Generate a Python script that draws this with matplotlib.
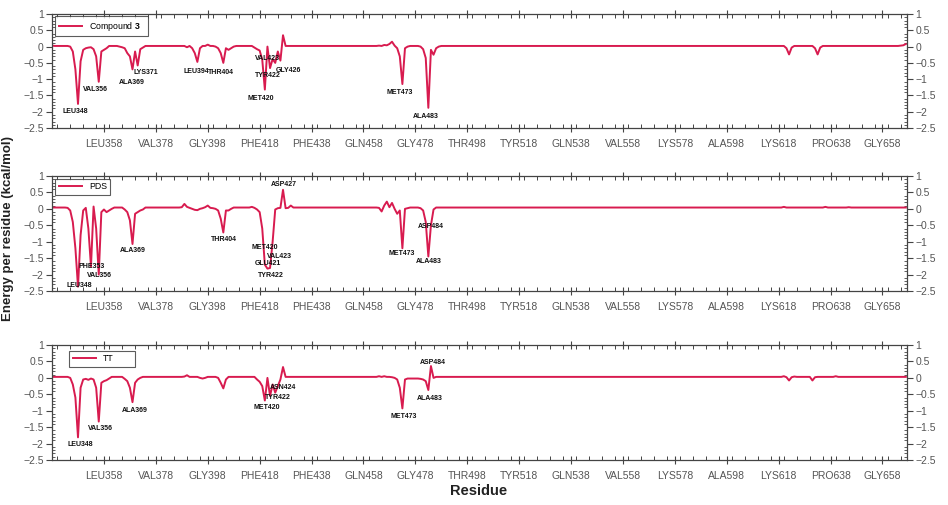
import numpy as np
import matplotlib
matplotlib.use("Agg")
import matplotlib.pyplot as plt
from matplotlib.ticker import MultipleLocator, FixedLocator

plt.rcParams['font.family'] = ['Liberation Sans', 'DejaVu Sans']
plt.rcParams['mathtext.fontset'] = 'custom'
plt.rcParams['mathtext.rm'] = 'Liberation Sans'
plt.rcParams['mathtext.bf'] = 'Liberation Sans:bold'

# residue range shown on the x axis
first_res, last_res = 338, 667

tick_res = [358, 378, 398, 418, 438, 458, 478, 498, 518, 538, 558, 578, 598, 618, 638, 658]
tick_names = ['LEU358', 'VAL378', 'GLY398', 'PHE418', 'PHE438', 'GLN458', 'GLY478', 'THR498',
              'TYR518', 'GLN538', 'VAL558', 'LYS578', 'ALA598', 'LYS618', 'PRO638', 'GLY658']

# --- Compound 3: residues that differ from the flat baseline, and their energies
c3_base = 0.02
c3_res = [338, 345, 346, 347, 348, 349, 350, 351, 352, 353, 354, 355, 356, 357, 358, 359,
          364, 365, 366, 367, 368, 369, 370, 371, 372, 373,
          390, 392, 393, 394, 395, 398, 401, 402, 403, 404, 405, 406, 407, 408,
          416, 417, 418, 419, 420, 421, 422, 423, 424, 425, 426, 427, 428,
          464, 466, 467, 468, 469, 470, 471, 472, 473, 474, 475,
          480, 481, 482, 483, 484, 485, 486, 487,
          621, 622, 623, 632, 633, 634, 665, 666, 667]
c3_val = [0.03, 0.0, -0.15, -0.7, -1.76, -0.45, -0.1, -0.05, -0.03, -0.02, -0.08, -0.3, -1.08, -0.15, -0.1, -0.05,
          0.0, -0.02, -0.05, -0.2, -0.3, -0.7, -0.15, -0.58, -0.08, -0.03,
          -0.02, -0.05, -0.2, -0.47, -0.05, 0.06, 0.0, -0.05, -0.2, -0.5, -0.05, -0.1, -0.05, 0.0,
          -0.03, -0.08, -0.12, -0.4, -1.32, 0.0, -0.66, -0.38, -0.5, -0.15, -0.43, 0.35, 0.02,
          0.03, 0.05, 0.04, 0.08, 0.15, 0.03, -0.05, -0.3, -1.15, -0.05, 0.0,
          0.0, -0.08, -0.35, -1.88, -0.1, -0.25, -0.05, 0.0,
          -0.05, -0.24, -0.03, -0.05, -0.24, -0.03, 0.03, 0.04, 0.08]

# --- PDS
pds_base = 0.04
pds_res = [344, 345, 346, 347, 348, 349, 350, 351, 352, 353, 354, 355, 356, 357, 358, 359, 360, 361,
           366, 367, 368, 369, 370, 371, 372, 373,
           388, 389, 390, 391, 392, 393, 394, 395, 396, 397, 398, 399, 400, 401, 402, 403, 404, 405, 406, 407,
           414, 415, 416, 417, 418, 419, 420, 421, 422, 423, 424, 425, 426, 427, 428, 429, 430, 431,
           464, 465, 466, 467, 468, 469, 470, 471, 472, 473, 474, 475,
           480, 481, 482, 483, 484, 485, 620, 636, 645]
pds_val = [0.03, -0.05, -0.4, -1.2, -2.37, -0.8, -0.05, 0.03, -0.6, -1.76, 0.07, -0.6, -2.0, -0.1, -0.02, -0.1, -0.05, 0.0,
           -0.02, -0.1, -0.35, -1.07, -0.15, -0.1, -0.05, -0.02,
           0.05, 0.15, 0.06, 0.03, 0.0, -0.03, -0.04, 0.0, 0.02, 0.05, 0.1, 0.03, 0.02, 0.0, -0.05, -0.3, -0.72, -0.05, -0.05, 0.0,
           0.04, 0.06, 0.03, -0.02, -0.1, -0.6, -1.7, -1.82, -1.8, -1.0, -0.02, 0.02, 0.03, 0.58, 0.02, 0.03, 0.1, 0.04,
           0.03, -0.08, 0.1, 0.22, 0.05, 0.18, 0.0, -0.15, -0.05, -1.2, 0.0, 0.02,
           0.02, -0.05, -0.4, -1.45, -0.5, -0.02, 0.06, 0.06, 0.05]

# --- TT
tt_base = 0.03
tt_res = [345, 346, 347, 348, 349, 350, 351, 352, 353, 354, 355, 356, 357, 358, 359, 360,
          366, 367, 368, 369, 370, 371, 372,
          389, 390, 391, 395, 396, 397, 398, 402, 403, 404, 405,
          417, 418, 419, 420, 421, 422, 423, 424, 425, 426, 427, 428,
          464, 466, 469, 470, 471, 472, 473, 474, 475, 476, 477, 478, 479, 480, 481, 482, 483, 484, 485,
          620, 621, 622, 623, 624, 630, 631, 632, 640]
tt_val = [0.0, -0.2, -0.6, -1.81, -0.3, -0.05, -0.03, -0.06, -0.02, -0.05, -0.3, -1.33, -0.15, -0.1, -0.07, -0.02,
          -0.03, -0.1, -0.3, -0.74, -0.15, -0.05, 0.0,
          0.04, 0.08, 0.03, 0.0, -0.02, 0.0, 0.03, 0.0, -0.15, -0.32, -0.05,
          -0.05, -0.12, -0.25, -0.69, 0.0, -0.55, -0.2, -0.45, -0.25, -0.05, 0.33, 0.03,
          0.05, 0.05, 0.02, 0.0, -0.05, -0.3, -0.93, -0.05, -0.02, -0.02, -0.02, -0.02, -0.02, -0.03, -0.05, -0.1, -0.37, 0.36, 0.0,
          0.05, 0.02, -0.08, 0.02, 0.04, 0.03, -0.08, 0.02, 0.05]

# residue labels drawn on each panel: (text, residue position, energy position)
c3_labels = [('LEU348', 347.1, -2.0), ('VAL356', 354.8, -1.33), ('ALA369', 368.6, -1.09),
             ('LYS371', 374.1, -0.81), ('LEU394', 393.6, -0.75), ('THR404', 403.2, -0.78),
             ('VAL423', 420.9, -0.38), ('TYR422', 421.2, -0.9), ('GLY426', 429.1, -0.72),
             ('MET420', 418.6, -1.58), ('MET473', 471.9, -1.42), ('ALA483', 482.2, -2.16)]
pds_labels = [('LEU348', 348.4, -2.32), ('PHE353', 353.3, -1.77), ('VAL356', 356.1, -2.04),
              ('ALA369', 369.2, -1.27), ('THR404', 404.2, -0.92), ('MET420', 420.0, -1.18),
              ('VAL423', 425.5, -1.45), ('GLU421', 421.2, -1.66), ('TYR422', 422.5, -2.03),
              ('ASP427', 427.3, 0.73), ('MET473', 472.9, -1.37), ('ALA483', 483.1, -1.61),
              ('ASP484', 484.1, -0.55)]
tt_labels = [('LEU348', 349.0, -2.04), ('VAL356', 356.7, -1.55), ('ALA369', 370.0, -0.98),
             ('MET420', 420.9, -0.91), ('TYR422', 425.1, -0.6), ('ASN424', 426.8, -0.3),
             ('MET473', 473.5, -1.18), ('ALA483', 483.5, -0.62), ('ASP484', 484.8, 0.46)]


def build_series(base, res, val):
    residues = np.arange(first_res, last_res + 1)
    energy = np.full(residues.shape, base, dtype=float)
    energy[np.array(res) - first_res] = val
    return residues, energy


line_color = '#D81B4F'
# name, data, labels, axes rect, legend box (x0, top, width) in axes fraction
panels = [
    (r'Compound $\mathbf{3}$', c3_base, c3_res, c3_val, c3_labels,
     [0.0549, 0.7465, 0.902, 0.2257], (0.0035, 0.982, 0.109)),
    ('PDS', pds_base, pds_res, pds_val, pds_labels,
     [0.0549, 0.4238, 0.902, 0.2277], (0.0035, 0.974, 0.064)),
    ('TT', tt_base, tt_res, tt_val, tt_labels,
     [0.0549, 0.0891, 0.902, 0.2277], (0.0199, 0.948, 0.077)),
]

fig = plt.figure(figsize=(9.48, 5.05), dpi=100)

for name, base, res, val, labels, rect, lbox in panels:
    ax = fig.add_axes(rect)
    x, y = build_series(base, res, val)
    ax.plot(x, y, color=line_color, lw=1.4, label=name)

    for txt, lx, ly in labels:
        ax.text(lx, ly, txt, fontsize=5, fontweight='bold', ha='center', va='center', color='#111111')

    ax.set_xlim(first_res, last_res + 0.5)
    ax.set_ylim(-2.5, 1.0)

    ax.xaxis.set_major_locator(FixedLocator(tick_res))
    ax.set_xticklabels(tick_names)
    ax.xaxis.set_minor_locator(MultipleLocator(5))
    ax.yaxis.set_major_locator(MultipleLocator(0.5))
    ax.yaxis.set_minor_locator(MultipleLocator(0.1))
    ax.yaxis.set_major_formatter(plt.FuncFormatter(lambda v, p: f'{v:g}'.replace('-', '\u2212')))

    ax.tick_params(axis='x', which='major', direction='inout', length=6, width=0.8,
                   top=True, bottom=True, labelsize=7.5, labelcolor='#555555', pad=5, color='#444444')
    ax.tick_params(axis='x', which='minor', direction='in', length=3, width=0.7,
                   top=True, bottom=True, color='#444444')
    ax.tick_params(axis='y', which='major', direction='out', length=4, width=0.8,
                   left=True, right=True, labelleft=True, labelright=True,
                   labelsize=7.5, labelcolor='#555555', pad=2, color='#444444')
    ax.tick_params(axis='y', which='minor', direction='in', length=2.5, width=0.6,
                   left=True, right=True, color='#444444')
    for sp in ax.spines.values():
        sp.set_color('#444444')
        sp.set_linewidth(0.9)

    x0, top, w = lbox
    leg = ax.legend(loc='upper left', bbox_to_anchor=(x0, top - 0.1, w, 0.1), mode='expand',
                    fontsize=6.3, frameon=True, fancybox=False, handlelength=2.7,
                    borderpad=0.4, handletextpad=0.8, borderaxespad=0.0)
    leg.get_frame().set_edgecolor('#333333')
    leg.get_frame().set_linewidth(0.8)

fig.text(0.008, 0.548, 'Energy per residue (kcal/mol)', rotation=90, ha='center', va='center',
         fontsize=9.5, fontweight='bold', color='#222222')
fig.text(0.505, 0.028, 'Residue', ha='center', va='center', fontsize=10.5, fontweight='bold', color='#222222')

fig.savefig('out.png', dpi=100)
